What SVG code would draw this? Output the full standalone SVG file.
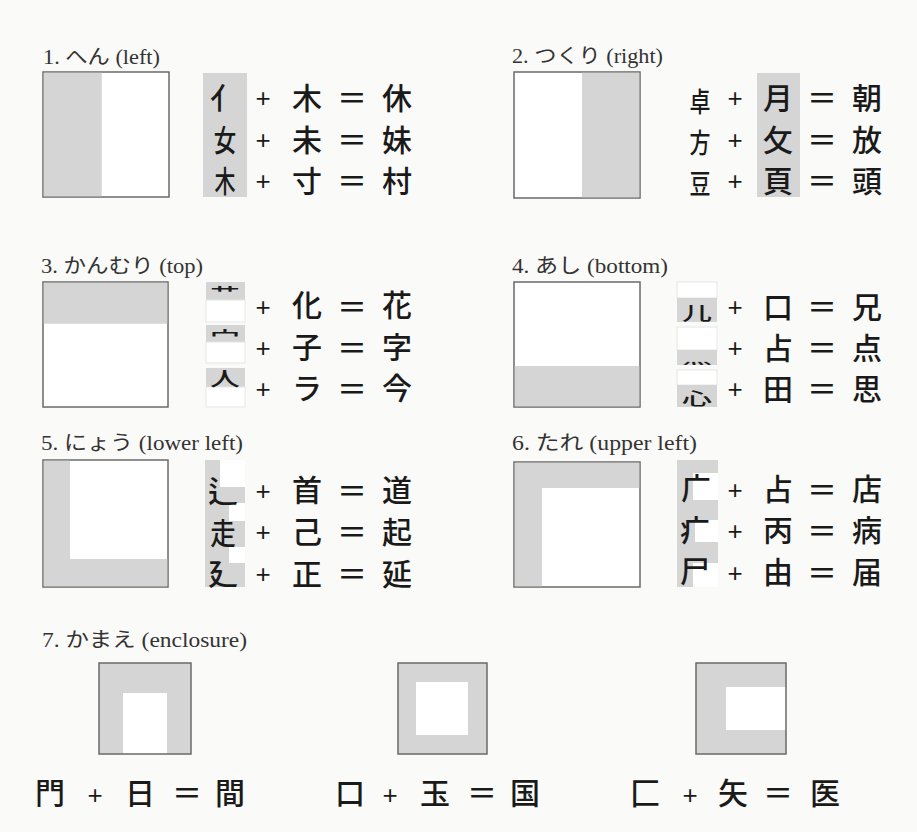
<svg xmlns="http://www.w3.org/2000/svg" width="917" height="832" viewBox="0 0 917 832">
<style>
.bg{fill:#fafaf8}
.box{fill:#ffffff;stroke:#6a6a6a;stroke-width:1.5}
.g{fill:#d5d5d5}
.w{fill:#ffffff}
.lbl{font-family:"Liberation Serif","Noto Sans CJK JP",serif;font-size:20px;fill:#333}
.k{font-family:"Noto Sans CJK JP","Noto Sans CJK SC",sans-serif;font-size:30px;font-weight:500;fill:#1a1a1a;text-anchor:middle;dominant-baseline:central}
.p{font-family:"Liberation Sans",sans-serif;font-size:26px;fill:#1a1a1a;text-anchor:middle;dominant-baseline:central}
.o{fill:none;stroke:#6a6a6a;stroke-width:1.5}
</style>
<rect class="bg" x="0" y="0" width="917" height="832"/>

<g id="sec1">
  <text class="lbl" x="43" y="64" textLength="117" lengthAdjust="spacingAndGlyphs">1. へん (left)</text>
  <rect class="box" x="43" y="72" width="126" height="125"/>
  <rect class="g" x="43.75" y="72.75" width="58" height="123.5"/>
  <rect class="g" x="203" y="73" width="44" height="124"/>
  <text class="k" x="225" y="96">亻</text>
  <text class="k" transform="translate(225,138) scale(0.75,1)">女</text>
  <text class="k" transform="translate(225,179) scale(0.7,1)">木</text>
  <text class="p" x="263" y="98">+</text><text class="k" x="307" y="96">木</text><text class="k" x="352" y="96">＝</text><text class="k" x="397" y="96">休</text>
  <text class="p" x="263" y="140">+</text><text class="k" x="307" y="138">未</text><text class="k" x="352" y="138">＝</text><text class="k" x="397" y="138">妹</text>
  <text class="p" x="263" y="181">+</text><text class="k" x="307" y="179">寸</text><text class="k" x="352" y="179">＝</text><text class="k" x="397" y="179">村</text>
</g>

<g id="sec2">
  <text class="lbl" x="512" y="63" textLength="151" lengthAdjust="spacingAndGlyphs">2. つくり (right)</text>
  <rect class="box" x="514" y="72" width="126" height="126"/>
  <rect class="g" x="582" y="72.75" width="57.25" height="124.5"/>
  <rect class="g" x="757" y="73" width="43" height="124"/>
  <text class="k" transform="translate(700,100) scale(0.7,0.9)">卓</text>
  <text class="k" transform="translate(700,141) scale(0.7,0.9)">方</text>
  <text class="k" transform="translate(700,182) scale(0.7,0.9)">豆</text>
  <text class="p" x="735" y="98">+</text><text class="k" x="778" y="96">月</text><text class="k" x="822" y="96">＝</text><text class="k" x="867" y="96">朝</text>
  <text class="p" x="735" y="140">+</text><text class="k" x="778" y="138">攵</text><text class="k" x="822" y="138">＝</text><text class="k" x="867" y="138">放</text>
  <text class="p" x="735" y="181">+</text><text class="k" x="778" y="179">頁</text><text class="k" x="822" y="179">＝</text><text class="k" x="867" y="179">頭</text>
</g>

<g id="sec3">
  <text class="lbl" x="41" y="273" textLength="162" lengthAdjust="spacingAndGlyphs">3. かんむり (top)</text>
  <rect class="box" x="43" y="282" width="125" height="125"/>
  <rect class="g" x="43.75" y="282.75" width="123.5" height="41"/>
  <rect class="g" x="206" y="282" width="39" height="18"/>
  <rect class="w" x="206" y="300" width="39" height="22" stroke="#e6e6e6" stroke-width="1"/>
  <rect class="g" x="206" y="325" width="39" height="17"/>
  <rect class="w" x="206" y="342" width="39" height="21" stroke="#e6e6e6" stroke-width="1"/>
  <rect class="g" x="206" y="368" width="39" height="19"/>
  <rect class="w" x="206" y="387" width="39" height="20" stroke="#e6e6e6" stroke-width="1"/>
  <text class="k" transform="translate(225,291) scale(1,0.5)">艹</text>
  <text class="k" transform="translate(225,334) scale(1,0.55)">宀</text>
  <text class="k" transform="translate(225,378) scale(1,0.65)">人</text>
  <text class="p" x="263" y="307">+</text><text class="k" x="307" y="303">化</text><text class="k" x="352" y="305">＝</text><text class="k" x="397" y="303">花</text>
  <text class="p" x="263" y="348">+</text><text class="k" x="307" y="345">子</text><text class="k" x="352" y="346">＝</text><text class="k" x="397" y="345">字</text>
  <text class="p" x="263" y="389">+</text><text class="k" x="307" y="386">ラ</text><text class="k" x="352" y="387">＝</text><text class="k" x="397" y="386">今</text>
</g>

<g id="sec4">
  <text class="lbl" x="512" y="273" textLength="156" lengthAdjust="spacingAndGlyphs">4. あし (bottom)</text>
  <rect class="box" x="514" y="282" width="126" height="125"/>
  <rect class="g" x="514.75" y="366" width="124.5" height="40.25"/>
  <rect class="w" x="677" y="282" width="40" height="16" stroke="#e6e6e6" stroke-width="1"/>
  <rect class="g" x="677" y="298" width="40" height="24"/>
  <rect class="w" x="677" y="327" width="40" height="23" stroke="#e6e6e6" stroke-width="1"/>
  <rect class="g" x="677" y="350" width="40" height="15"/>
  <rect class="w" x="677" y="370" width="40" height="15" stroke="#e6e6e6" stroke-width="1"/>
  <rect class="g" x="677" y="385" width="40" height="22"/>
  <text class="k" transform="translate(697,312) scale(1,0.6)">儿</text>
  <text class="k" transform="translate(697,359) scale(1,0.35)">灬</text>
  <text class="k" transform="translate(697,398) scale(1,0.55)">心</text>
  <text class="p" x="735" y="307">+</text><text class="k" x="778" y="305">口</text><text class="k" x="822" y="305">＝</text><text class="k" x="867" y="305">兄</text>
  <text class="p" x="735" y="348">+</text><text class="k" x="778" y="346">占</text><text class="k" x="822" y="346">＝</text><text class="k" x="867" y="346">点</text>
  <text class="p" x="735" y="389">+</text><text class="k" x="778" y="387">田</text><text class="k" x="822" y="387">＝</text><text class="k" x="867" y="387">思</text>
</g>

<g id="sec5">
  <text class="lbl" x="41" y="450" textLength="202" lengthAdjust="spacingAndGlyphs">5. にょう (lower left)</text>
  <rect class="box" x="43" y="460" width="125" height="127"/>
  <path class="g" d="M43.75,460.75 H70 V559 H167.25 V586.25 H43.75 Z"/>
  <rect class="g" x="205" y="460" width="40" height="127"/>
  <rect class="w" x="220" y="460" width="25" height="27"/>
  <rect class="w" x="229" y="503" width="16" height="18"/>
  <rect class="w" x="229" y="547" width="16" height="16"/>
  <text class="k" x="223" y="489">辶</text>
  <text class="k" transform="translate(223,531) scale(0.85,1)">走</text>
  <text class="k" x="223" y="572">廴</text>
  <text class="p" x="263" y="491">+</text><text class="k" x="307" y="488">首</text><text class="k" x="352" y="489">＝</text><text class="k" x="397" y="488">道</text>
  <text class="p" x="263" y="532">+</text><text class="k" x="307" y="530">己</text><text class="k" x="352" y="530">＝</text><text class="k" x="397" y="530">起</text>
  <text class="p" x="263" y="574">+</text><text class="k" x="307" y="572">正</text><text class="k" x="352" y="572">＝</text><text class="k" x="397" y="572">延</text>
</g>

<g id="sec6">
  <text class="lbl" x="512" y="450" textLength="185" lengthAdjust="spacingAndGlyphs">6. たれ (upper left)</text>
  <rect class="box" x="514" y="462" width="126" height="125"/>
  <path class="g" d="M514.75,462.75 H639.25 V488 H542 V586.25 H514.75 Z"/>
  <rect class="g" x="677" y="460" width="41" height="127"/>
  <rect class="w" x="693" y="473" width="25" height="27"/>
  <rect class="w" x="695" y="520" width="23" height="22"/>
  <rect class="w" x="693" y="563" width="25" height="24"/>
  <text class="k" x="696" y="486">广</text>
  <text class="k" x="695" y="528">疒</text>
  <text class="k" x="695" y="569">尸</text>
  <text class="p" x="735" y="490">+</text><text class="k" x="778" y="487">占</text><text class="k" x="822" y="488">＝</text><text class="k" x="867" y="487">店</text>
  <text class="p" x="735" y="531">+</text><text class="k" x="778" y="528">丙</text><text class="k" x="822" y="529">＝</text><text class="k" x="867" y="528">病</text>
  <text class="p" x="735" y="573">+</text><text class="k" x="778" y="570">由</text><text class="k" x="822" y="571">＝</text><text class="k" x="867" y="570">届</text>
</g>

<g id="sec7">
  <text class="lbl" x="42" y="647" textLength="205" lengthAdjust="spacingAndGlyphs">7. かまえ (enclosure)</text>
  <rect class="g" x="99" y="663" width="92" height="91"/>
  <rect class="w" x="123" y="693" width="44" height="61"/>
  <rect class="o" x="99" y="663" width="92" height="91"/>
  <rect class="g" x="398" y="663" width="89" height="91"/>
  <rect class="w" x="416" y="682" width="52" height="53"/>
  <rect class="o" x="398" y="663" width="89" height="91"/>
  <rect class="g" x="696" y="663" width="90" height="91"/>
  <rect class="w" x="726" y="687" width="60" height="43"/>
  <rect class="o" x="696" y="663" width="90" height="91"/>
  <text class="k" x="50" y="791">門</text><text class="p" x="95" y="795">+</text><text class="k" x="140" y="791">日</text><text class="k" x="187" y="791">＝</text><text class="k" x="230" y="791">間</text>
  <text class="k" x="350" y="791">口</text><text class="p" x="390" y="795">+</text><text class="k" x="435" y="791">玉</text><text class="k" x="482" y="791">＝</text><text class="k" x="525" y="791">国</text>
  <text class="k" x="645" y="791">匚</text><text class="p" x="690" y="795">+</text><text class="k" x="733" y="791">矢</text><text class="k" x="778" y="791">＝</text><text class="k" x="825" y="791">医</text>
</g>
</svg>
